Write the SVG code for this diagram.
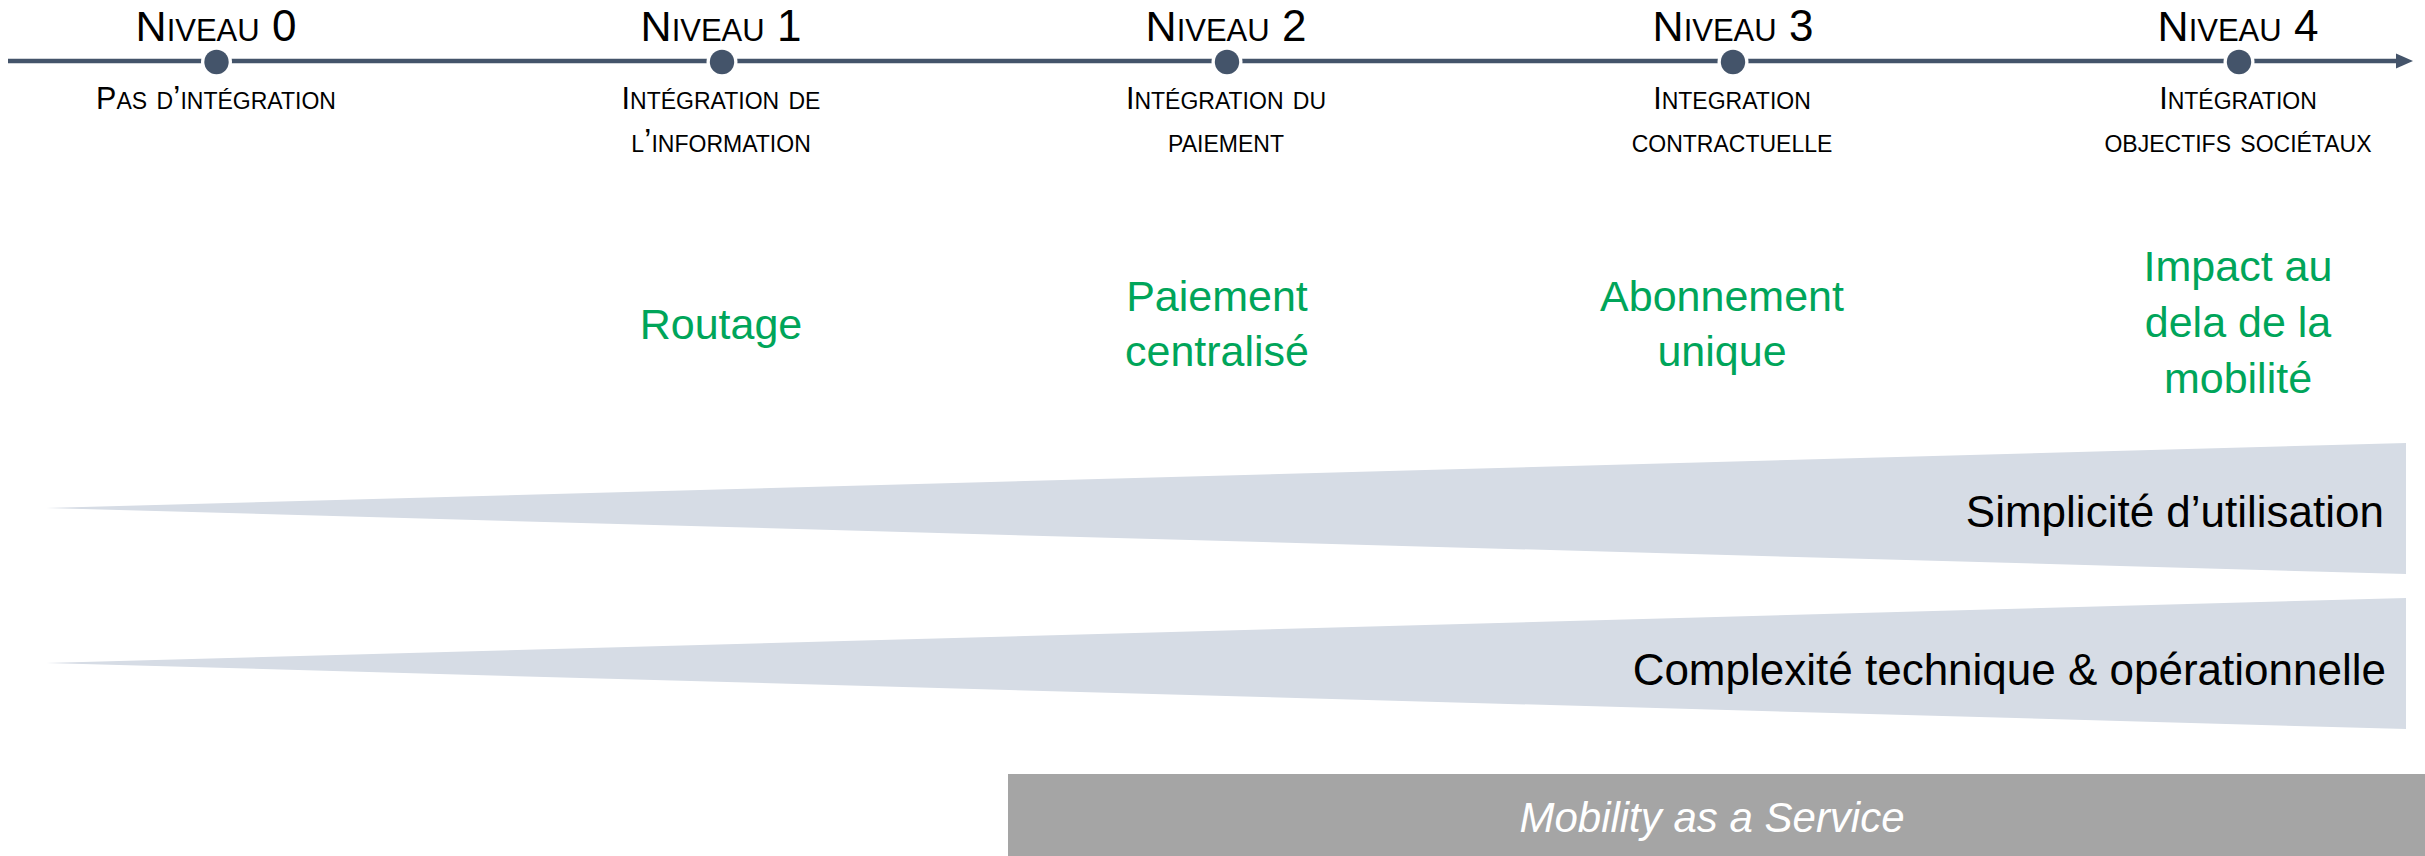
<svg xmlns="http://www.w3.org/2000/svg" width="2425" height="856" viewBox="0 0 2425 856">
<style>
.title{font-family:"Liberation Sans",Arial,sans-serif;font-size:44px;font-variant:small-caps;fill:#000;text-anchor:middle}
.title .cap{font-size:43px}
.sub{font-family:"Liberation Sans",Arial,sans-serif;font-size:33.5px;font-variant:small-caps;fill:#000;text-anchor:middle}
.sub .cap{font-size:30.5px}
.green{font-family:"Liberation Sans",Arial,sans-serif;font-size:43px;fill:#00A55A;text-anchor:middle}
.band{fill:#D6DCE5}
.bandtxt{font-family:"Liberation Sans",Arial,sans-serif;font-size:44px;fill:#000;text-anchor:end}
.maas{font-family:"Liberation Sans",Arial,sans-serif;font-size:42px;font-style:italic;fill:#fff;text-anchor:middle}
.halo{fill:#fff}
.dot{fill:#44546A}
</style>
<rect width="2425" height="856" fill="#fff"/>
<g id="connectors">
<line x1="8" y1="61" x2="2400" y2="61" stroke="#44546A" stroke-width="4.5"/>
<polygon points="2396,53.5 2413,61 2396,68.5" fill="#44546A"/>
</g>
<g id="niveau0">
<circle class="halo" cx="216.5" cy="62" r="15.5"/>
<circle class="dot" cx="216.5" cy="62" r="12.2"/>
<text class="title" x="216" y="41"><tspan class="cap">N</tspan>iveau 0</text>
<text class="sub" x="216" y="109"><tspan class="cap">P</tspan>as d’intégration</text>
</g>
<g id="niveau1">
<circle class="halo" cx="722" cy="62" r="15.5"/>
<circle class="dot" cx="722" cy="62" r="12.2"/>
<text class="title" x="721" y="41"><tspan class="cap">N</tspan>iveau 1</text>
<text class="sub" x="721" y="109"><tspan class="cap">I</tspan>ntégration de</text>
<text class="sub" x="721" y="152">l’information</text>
<text class="green" x="721" y="339">Routage</text>
</g>
<g id="niveau2">
<circle class="halo" cx="1227" cy="62" r="15.5"/>
<circle class="dot" cx="1227" cy="62" r="12.2"/>
<text class="title" x="1226" y="41"><tspan class="cap">N</tspan>iveau 2</text>
<text class="sub" x="1226" y="109"><tspan class="cap">I</tspan>ntégration du</text>
<text class="sub" x="1226" y="152">paiement</text>
<text class="green" x="1217" y="311">Paiement</text>
<text class="green" x="1217" y="366">centralisé</text>
</g>
<g id="niveau3">
<circle class="halo" cx="1733" cy="62" r="15.5"/>
<circle class="dot" cx="1733" cy="62" r="12.2"/>
<text class="title" x="1733" y="41"><tspan class="cap">N</tspan>iveau 3</text>
<text class="sub" x="1732" y="109"><tspan class="cap">I</tspan>ntegration</text>
<text class="sub" x="1732" y="152">contractuelle</text>
<text class="green" x="1722" y="311">Abonnement</text>
<text class="green" x="1722" y="366">unique</text>
</g>
<g id="niveau4">
<circle class="halo" cx="2239" cy="62" r="15.5"/>
<circle class="dot" cx="2239" cy="62" r="12.2"/>
<text class="title" x="2238" y="41"><tspan class="cap">N</tspan>iveau 4</text>
<text class="sub" x="2238" y="109"><tspan class="cap">I</tspan>ntégration</text>
<text class="sub" x="2238" y="152">objectifs sociétaux</text>
<text class="green" x="2238" y="281">Impact au</text>
<text class="green" x="2238" y="337">dela de la</text>
<text class="green" x="2238" y="393">mobilité</text>
</g>
<g id="simplicite">
<polygon class="band" points="46,508 2406,443 2406,574"/>
<text class="bandtxt" x="2384" y="527">Simplicité d’utilisation</text>
</g>
<g id="complexite">
<polygon class="band" points="46,663 2406,598 2406,729"/>
<text class="bandtxt" x="2386" y="685">Complexité technique &amp; opérationnelle</text>
</g>
<g id="maas">
<rect x="1008" y="774" width="1417" height="82" fill="#A5A5A5"/>
<text class="maas" x="1712" y="832">Mobility as a Service</text>
</g>
</svg>
